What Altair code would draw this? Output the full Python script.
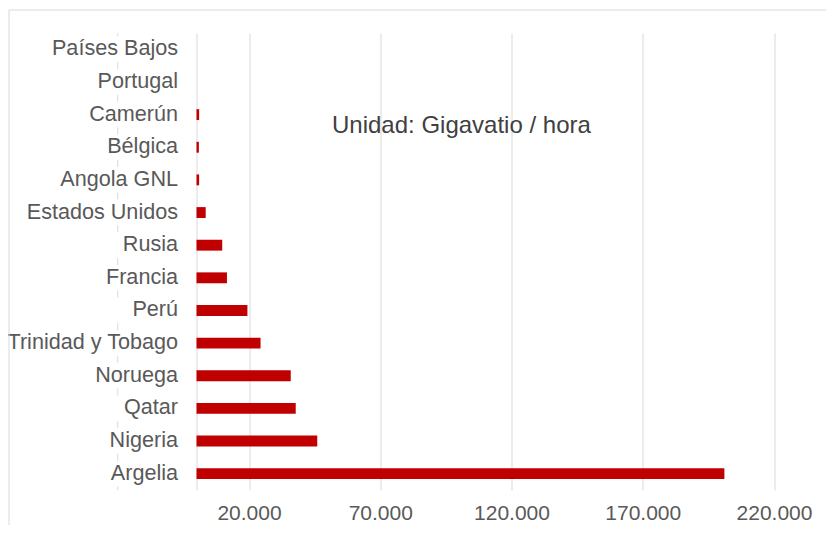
import altair as alt
import pandas as pd

# ---- data ----
countries = ["Países Bajos", "Portugal", "Camerún", "Bélgica", "Angola GNL",
             "Estados Unidos", "Rusia", "Francia", "Perú", "Trinidad y Tobago",
             "Noruega", "Qatar", "Nigeria", "Argelia"]
values = [0, 0, 1000, 900, 1000, 3500, 9800, 11600, 19400, 24400,
          35900, 37800, 46000, 201100]
tick_values = [0, 20000, 70000, 120000, 170000, 220000]
hidden_gridline = [-30000]
note = ["Unidad: Gigavatio / hora"]

# ---- layout ----
W, H = 630, 457
PAD_L, PAD_T, PAD_R, PAD_B = 188.5, 25, 0, 35
FONT = "Liberation Sans"
GRID = "#d9d9d9"
LABEL = "#595959"

df = pd.DataFrame({"pais": countries, "valor": values})

xscale = alt.Scale(domain=[0, 240000], nice=False, zero=True)
yscale = alt.Scale(paddingInner=2 / 3, paddingOuter=1 / 3)

bars = alt.Chart(df).mark_bar(color="#C00000").encode(
    x=alt.X("valor:Q", scale=xscale,
            axis=alt.Axis(values=tick_values, title=None, grid=True,
                          gridColor=GRID, gridWidth=1, domain=False,
                          ticks=False, tickSize=0, labelPadding=12,
                          labelFont=FONT, labelFontSize=21, labelColor=LABEL,
                          labelExpr="datum.value == 0 ? '' : replace(format(datum.value, ','), ',', '.')")),
    y=alt.Y("pais:N", sort=countries, scale=yscale,
            axis=alt.Axis(title=None, domain=False, ticks=False, tickSize=0,
                          labelPadding=19, labelFont=FONT, labelFontSize=21.6,
                          labelColor=LABEL, labelLimit=400)),
)

dashed = alt.Chart(pd.DataFrame({"v": hidden_gridline})).mark_rule(
    color=GRID, strokeWidth=1, strokeDash=[7, 25.64], strokeDashOffset=3.54
).encode(x=alt.X("v:Q", scale=xscale))

text = alt.Chart(pd.DataFrame({"t": note})).mark_text(
    align="left", baseline="alphabetic", font=FONT, fontSize=24, color="#404040"
).encode(x=alt.value(135.5), y=alt.value(100.3), text="t:N")

frame = pd.DataFrame({"k": [0]})
border_v = alt.Chart(frame).mark_rule(color=GRID, strokeWidth=1).encode(
    x=alt.value(-187.5), y=alt.value(-23), y2=alt.value(H + PAD_B))
border_h = alt.Chart(frame).mark_rule(color=GRID, strokeWidth=1).encode(
    x=alt.value(-187.5), x2=alt.value(W), y=alt.value(-23))

chart = alt.layer(dashed, bars, text, border_v, border_h).properties(
    width=W, height=H,
    padding={"left": PAD_L, "top": PAD_T, "right": PAD_R, "bottom": PAD_B},
    autosize=alt.AutoSizeParams(type="none"),
).configure_view(stroke=None)

chart.save("out.html", embed_options={"renderer": "svg", "actions": False})
